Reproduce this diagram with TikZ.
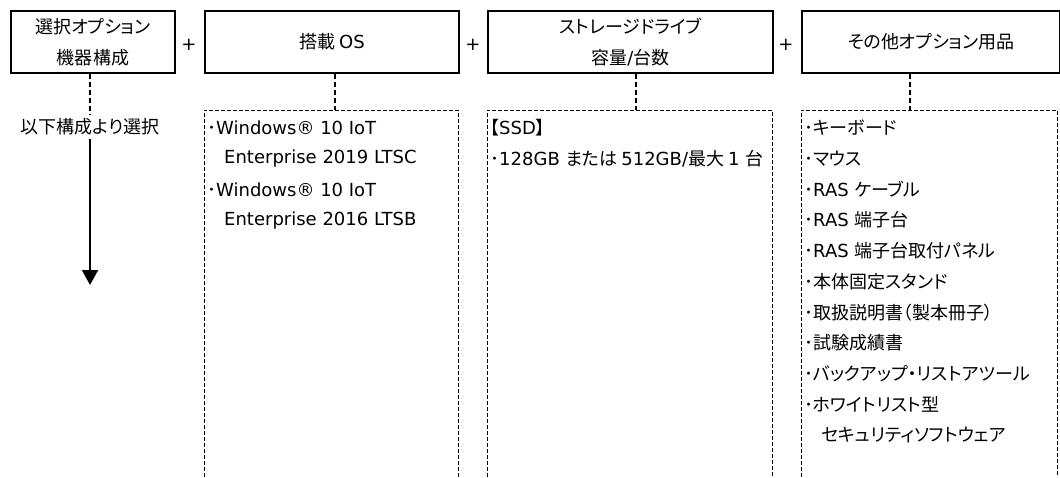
\documentclass[tikz,border=0pt]{standalone}
\usepackage{fontspec}
\setmainfont{DejaVu Sans}
\newfontfamily\jpfont{Noto Sans CJK JP}[RawFeature=+palt]
\usetikzlibrary{arrows.meta}
% kana and kanji are set in the Japanese font
\newXeTeXintercharclass\jpclass
\makeatletter
\count@="3000
\loop\ifnum\count@<"3100 \XeTeXcharclass\count@=\jpclass \advance\count@ 1 \repeat
\count@="4E00
\loop\ifnum\count@<"A000 \XeTeXcharclass\count@=\jpclass \advance\count@ 1 \repeat
\count@="FF00
\loop\ifnum\count@<"FFF0 \XeTeXcharclass\count@=\jpclass \advance\count@ 1 \repeat
\makeatother
\XeTeXinterchartoks 0 \jpclass = {\jpfont}
\XeTeXinterchartoks 4095 \jpclass = {\jpfont}
\XeTeXinterchartoks \jpclass 0 = {\rmfamily}
\XeTeXinterchartoks 4095 0 = {\rmfamily}
\XeTeXinterchartokenstate=1
\newcommand\ind{\hspace*{17pt}}
\begin{document}
\begin{tikzpicture}[x=1pt,y=-1pt,font=\fontsize{18}{31}\selectfont,
	topbox/.style={draw,line width=2pt,minimum height=62pt,anchor=north west,inner sep=0pt,align=center},
	conn/.style={line width=1.2pt,dash pattern=on 5pt off 3pt},
	frame/.style={line width=0.9pt,dash pattern=on 4pt off 2pt},
	item/.style={anchor=west,inner sep=0pt}]
	\useasboundingbox (0,0) rectangle (1060,477);
	% headings
	\node[topbox,minimum width=164pt] (b1) at (10,10) {選択オプション\\機器構成};
	\node[topbox,minimum width=254pt] (b2) at (204,10) {搭載 OS};
	\node[topbox,minimum width=285pt] (b3) at (487,10) {ストレージドライブ\\容量/台数};
	\node[topbox,minimum width=258pt] (b4) at (801,10) {その他オプション用品};
	\node (p1) at (189,45) {+};
	\node (p2) at (473,45) {+};
	\node (p3) at (786,45) {+};
	% first column
	\node (sel) at (90,127) {以下構成より選択};
	\coordinate (end) at (90,285);
	\draw[conn] (b1.south -| sel) -- (sel.north);
	\draw[line width=2pt,-{Triangle[width=16pt,length=15pt]}] (sel.south) -- (end);
	% open frames
	\draw[frame] (204,477) -- (204,110) -- (458,110) -- (458,477);
	\draw[frame] (487,477) -- (487,110) -- (772,110) -- (772,477);
	\draw[frame] (801,477) -- (801,110) -- (1057,110) -- (1057,477);
	\coordinate (f2) at (335,110);
	\coordinate (f3) at (636,110);
	\coordinate (f4) at (910,110);
	\draw[conn] (b2.south -| f2) -- (f2);
	\draw[conn] (b3.south -| f3) -- (f3);
	\draw[conn] (b4.south -| f4) -- (f4);
	% lists
	\foreach \t [count=\i from 0] in {･Windows® 10 IoT,\ind Enterprise 2019 LTSC,
		･Windows® 10 IoT,\ind Enterprise 2016 LTSB}
		\node[item] (os\i) at (207,{128+30.7*\i}) {\t};
	\foreach \t [count=\i from 0] in {【SSD】,･128GB または 512GB/最大 1 台}
		\node[item] (ssd\i) at (490,{128+30.7*\i}) {\t};
	\foreach \t [count=\i from 0] in {･キーボード,･マウス,･RAS ケーブル,･RAS 端子台,
		･RAS 端子台取付パネル,･本体固定スタンド,･取扱説明書（製本冊子）,･試験成績書,
		･バックアップ・リストアツール,･ホワイトリスト型,\ind セキュリティソフトウェア}
		\node[item] (op\i) at (804,{128+30.7*\i}) {\t};
\end{tikzpicture}
\end{document}
